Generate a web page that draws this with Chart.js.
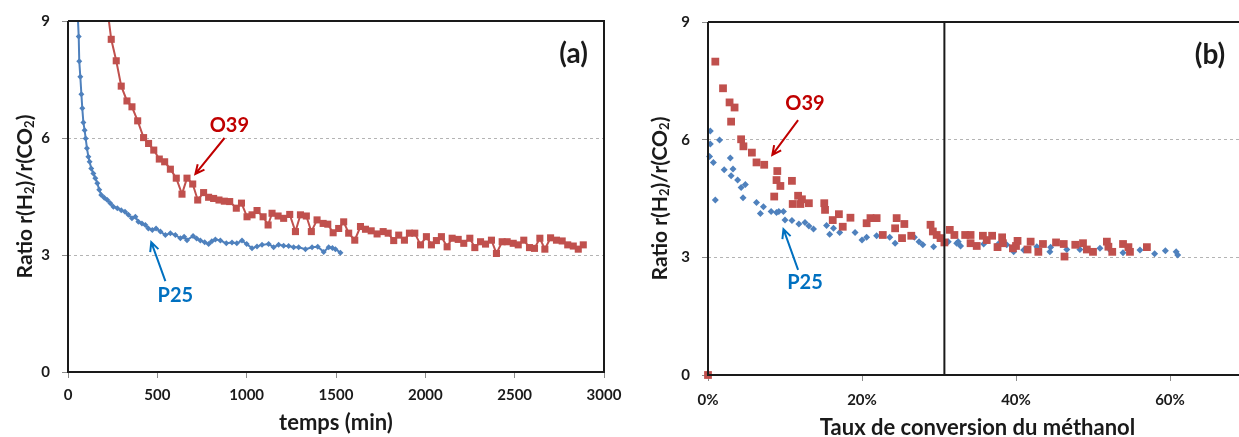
<!DOCTYPE html>
<html lang="fr">
<head>
<meta charset="UTF-8">
<title>Ratio r(H2)/r(CO2)</title>
<script src="https://cdn.jsdelivr.net/npm/chart.js"></script>
<style>
    body { margin: 0; background: #fff; width: 1239px; height: 437px; overflow: hidden; position: relative; }
    canvas { position: absolute; top: 0; }
    #chartA { left: 0; }
    #chartB { left: 620px; }
</style>
</head>
<body>
<canvas id="chartA" width="640" height="437"></canvas>
<canvas id="chartB" width="640" height="437"></canvas>
<script>
// (a) ratio vs time (min)
const p25Time = [52,60,63,69,75,80,86,93,99,106,114,121,130,142,153,164,175,186,203,220,237,254,276,298,319,338,358,377,394,414,433,450,472,493,517,545,573,601,629,650,666,700,720,741,765,787,805,825,853,886,918,945,974,1000,1030,1058,1086,1123,1151,1179,1207,1235,1263,1291,1329,1366,1398,1431,1459,1480,1497,1525];
const p25Ratio = [9.4,8.6,7.97,7.57,7.12,6.76,6.40,6.2,5.99,5.74,5.52,5.39,5.22,5.09,4.97,4.84,4.67,4.54,4.47,4.41,4.33,4.24,4.20,4.15,4.11,4.03,3.94,3.98,3.85,3.81,3.77,3.68,3.64,3.68,3.60,3.51,3.56,3.51,3.43,3.47,3.38,3.49,3.42,3.37,3.33,3.28,3.35,3.40,3.37,3.30,3.32,3.30,3.37,3.28,3.17,3.22,3.26,3.28,3.20,3.26,3.24,3.23,3.20,3.20,3.15,3.20,3.21,3.08,3.20,3.18,3.15,3.06];
const o39Time = [215,242,270,298,330,358,390,423,451,480,511,541,573,606,638,666,698,726,759,787,815,845,875,905,942,971,1002,1030,1058,1092,1120,1142,1176,1207,1241,1273,1301,1334,1362,1394,1428,1454,1484,1515,1543,1571,1605,1637,1665,1697,1730,1764,1792,1823,1851,1883,1911,1941,1973,2006,2034,2062,2090,2122,2150,2184,2215,2249,2277,2309,2337,2370,2398,2430,2458,2492,2520,2551,2583,2611,2641,2669,2701,2734,2766,2797,2828,2856,2884];
const o39Ratio = [9.5,8.53,7.98,7.33,6.95,6.80,6.44,6.01,5.86,5.69,5.46,5.39,5.20,4.97,4.56,4.97,4.82,4.41,4.60,4.48,4.45,4.41,4.38,4.37,4.20,4.33,3.98,4.03,4.14,3.98,3.77,4.07,4.00,3.94,4.04,3.60,4.03,4.00,3.60,3.90,3.81,3.79,3.57,3.68,3.85,3.56,3.38,3.73,3.66,3.62,3.54,3.60,3.56,3.37,3.51,3.38,3.56,3.56,3.26,3.47,3.26,3.37,3.47,3.21,3.43,3.40,3.30,3.43,3.19,3.34,3.28,3.38,3.04,3.34,3.34,3.30,3.26,3.38,3.19,3.17,3.43,3.15,3.44,3.38,3.36,3.26,3.23,3.15,3.26];

// (b) ratio vs methanol conversion (%)
const p25Conv = [0.3,0.3,1.5,0.2,0.7,0.95,2.1,2.9,3.25,3.0,3.85,4.85,4.3,4.55,6.3,6.8,7.2,8.2,8.9,9.2,9.8,10.0,10.9,11.8,12.6,13.1,13.7,15.4,15.8,16.3,17.1,19.1,20.0,20.6,21.9,23.6,24.3,26.8,27.4,27.9,29.3,31.2,32.3,32.5,32.8,35.8,37.7,38.8,39.7,41.0,42.7,44.5,44.4,46.6,48.3,50.9,52.3,53.9,56.1,58.0,59.4,60.8,61.0];
const p25ConvRatio = [6.22,5.89,5.99,5.57,5.42,4.46,5.23,5.53,5.25,5.08,4.97,4.86,4.78,4.52,4.40,4.12,4.29,4.17,4.14,4.17,4.17,3.95,3.94,3.85,3.89,3.80,3.72,3.81,3.59,3.74,3.63,3.63,3.44,3.51,3.55,3.51,3.36,3.51,3.40,3.32,3.27,3.40,3.36,3.40,3.29,3.34,3.34,3.32,3.14,3.19,3.27,3.26,3.14,3.20,3.20,3.23,3.17,3.12,3.19,3.09,3.17,3.14,3.06];
const o39Conv = [0,0.95,1.95,2.8,3.45,3.0,4.3,4.6,5.7,6.3,7.3,9.0,8.9,9.4,8.6,10.9,11.7,11.0,12.0,12.2,13.1,15.1,15.2,16.2,17.0,17.5,18.5,20.6,21.1,21.9,22.7,24.5,24.3,25.5,25.2,26.4,28.9,29.2,29.7,30.2,30.7,31.4,32.0,33.4,34.1,34.1,34.9,35.7,36.2,36.9,38.2,37.6,38.3,39.6,40.2,40.0,41.5,41.9,42.9,43.5,45.2,46.2,46.3,47.7,48.7,49.2,50.0,51.8,52.0,52.5,53.9,54.6,54.8,57.0];
const o39ConvRatio = [0,7.99,7.31,6.95,6.82,6.46,6.01,5.83,5.67,5.42,5.36,5.20,4.97,4.82,4.55,4.95,4.57,4.36,4.36,4.48,4.38,4.38,4.21,3.95,4.10,3.78,4.01,3.87,4.0,4.0,3.57,4.0,3.74,3.85,3.49,3.55,3.83,3.66,3.57,3.49,3.38,3.70,3.57,3.57,3.57,3.36,3.29,3.55,3.44,3.55,3.51,3.26,3.36,3.23,3.42,3.29,3.20,3.40,3.14,3.34,3.38,3.34,3.02,3.32,3.36,3.20,3.14,3.40,3.27,3.14,3.34,3.26,3.14,3.26];

const conversionCut = 30.7;   // vertical line in (b)

const RED = '#C0504D', BLUE = '#4F81BD';
const RED_TXT = '#C00000', BLUE_TXT = '#0070C0';
const INK = '#1a1a1a';

Chart.defaults.font.family = 'Lato, "Open Sans", sans-serif';
Chart.defaults.animation = false;

const pts = (xs, ys) => xs.map((x, i) => ({ x: x, y: ys[i] }));

function arrow(ctx, x1, y1, x2, y2, color) {
    const ang = Math.atan2(y2 - y1, x2 - x1), h = 10;
    ctx.strokeStyle = color;
    ctx.lineWidth = 2;
    ctx.beginPath();
    ctx.moveTo(x1, y1);
    ctx.lineTo(x2, y2);
    ctx.moveTo(x2 - h * Math.cos(ang - 0.45), y2 - h * Math.sin(ang - 0.45));
    ctx.lineTo(x2, y2);
    ctx.lineTo(x2 - h * Math.cos(ang + 0.45), y2 - h * Math.sin(ang + 0.45));
    ctx.stroke();
}

function ratioTitle(ctx, cx, cy) {
    const parts = [['Ratio r(H', 0], ['2', 1], [')/r(CO', 0], ['2', 1], [')', 0]];
    const big = 'bold 21px Lato', small = 'bold 13px Lato';
    let w = 0;
    parts.forEach(p => { ctx.font = p[1] ? small : big; w += ctx.measureText(p[0]).width; });
    ctx.save();
    ctx.translate(cx, cy);
    ctx.rotate(-Math.PI / 2);
    ctx.fillStyle = INK;
    ctx.textBaseline = 'middle';
    ctx.textAlign = 'left';
    let x = -w / 2;
    parts.forEach(p => {
        ctx.font = p[1] ? small : big;
        ctx.fillText(p[0], x, p[1] ? 5 : 0);
        x += ctx.measureText(p[0]).width;
    });
    ctx.restore();
}

// frame, titles, labels and arrows
const decor = {
    id: 'decor',
    afterDraw(chart, args, o) {
        const { ctx, chartArea: a, scales: { x, y } } = chart;
        ctx.save();
        if (o.cut != null) {
            const cx = x.getPixelForValue(o.cut);
            ctx.strokeStyle = INK;
            ctx.lineWidth = 2;
            ctx.beginPath();
            ctx.moveTo(cx, a.top);
            ctx.lineTo(cx, a.bottom);
            ctx.stroke();
        }
        ctx.strokeStyle = INK;
        ctx.lineWidth = 2;
        ctx.beginPath();
        ctx.moveTo(a.left, a.top);
        ctx.lineTo(a.right, a.top);
        if (o.rightEdge) ctx.lineTo(a.right, a.bottom); else ctx.moveTo(a.right, a.bottom);
        ctx.lineTo(a.left, a.bottom);
        ctx.lineTo(a.left, a.top);
        ctx.stroke();

        ctx.textAlign = 'center';
        ctx.textBaseline = 'middle';
        o.notes.forEach(n => {
            ctx.fillStyle = n.color;
            ctx.font = 'bold 20px Lato';
            ctx.fillText(n.text, x.getPixelForValue(n.at[0]), y.getPixelForValue(n.at[1]));
            arrow(ctx, x.getPixelForValue(n.from[0]), y.getPixelForValue(n.from[1]),
                x.getPixelForValue(n.to[0]), y.getPixelForValue(n.to[1]), n.color);
        });
        ctx.fillStyle = INK;
        ctx.font = 'bold 28px Lato';
        ctx.fillText(o.tag.text, x.getPixelForValue(o.tag.at[0]), y.getPixelForValue(o.tag.at[1]));

        ctx.font = 'bold 22px Lato';
        ctx.fillText(o.xTitle, (a.left + a.right) / 2, a.bottom + o.xTitleGap);
        ratioTitle(ctx, o.yTitleX, (a.top + a.bottom) / 2);
        ctx.restore();
    }
};

function yAxis(width) {
    return {
        min: 0, max: 9,
        ticks: { stepSize: 3, padding: 12, color: INK, font: { size: 15, weight: 'bold' } },
        grid: {
            color: c => (c.tick && (c.tick.value === 0 || c.tick.value === 9)) ? 'rgba(0,0,0,0)' : '#b4b4b4',
            lineWidth: 1, tickLength: 6, tickColor: '#8c8c8c', tickBorderDash: []
        },
        border: { display: false, dash: [3, 3] },
        afterFit: s => { s.width = width; }
    };
}

function xAxis(min, max, step, pad, height, fmt) {
    return {
        type: 'linear', min: min, max: max,
        ticks: { stepSize: step, padding: pad, color: INK, font: { size: 15, weight: 'bold' }, callback: fmt },
        grid: { drawOnChartArea: false, tickLength: 6, tickColor: '#8c8c8c' },
        border: { display: false },
        afterBuildTicks: s => { s.ticks = s.ticks.filter(t => t.value % step === 0); },
        afterFit: s => { s.height = height; }
    };
}

new Chart(document.getElementById('chartA'), {
    type: 'scatter',
    data: {
        datasets: [
            {
                label: 'O39', data: pts(o39Time, o39Ratio), showLine: true,
                borderColor: RED, backgroundColor: RED, borderWidth: 2,
                pointStyle: 'rect', pointRadius: 5, pointBorderWidth: 0,
                clip: { left: 6, right: 6, top: 0, bottom: 6 }
            },
            {
                label: 'P25', data: pts(p25Time, p25Ratio), showLine: true,
                borderColor: BLUE, backgroundColor: BLUE, borderWidth: 2,
                pointStyle: 'rectRot', pointRadius: 3, pointBorderWidth: 0,
                clip: { left: 6, right: 6, top: 0, bottom: 6 }
            }
        ]
    },
    options: {
        responsive: false,
        layout: { padding: { left: 0, top: 21, right: 36, bottom: 0 } },
        scales: {
            x: xAxis(0, 3000, 500, 8, 65, v => String(v)),
            y: yAxis(68)
        },
        plugins: {
            legend: { display: false },
            tooltip: { enabled: false },
            decor: {
                rightEdge: true,
                notes: [
                    { text: 'O39', color: RED_TXT, at: [903, 6.33], from: [876, 6.0], to: [713, 5.08] },
                    { text: 'P25', color: BLUE_TXT, at: [601, 1.95], from: [545, 2.33], to: [466, 3.33] }
                ],
                tag: { text: '(a)', at: [2830, 8.15] },
                xTitle: 'temps (min)', xTitleGap: 51, yTitleX: 25
            }
        }
    },
    plugins: [decor]
});

new Chart(document.getElementById('chartB'), {
    type: 'scatter',
    data: {
        datasets: [
            {
                label: 'O39', data: pts(o39Conv, o39ConvRatio),
                borderColor: RED, backgroundColor: RED,
                pointStyle: 'rect', pointRadius: 5.5, pointBorderWidth: 0, clip: false
            },
            {
                label: 'P25', data: pts(p25Conv, p25ConvRatio),
                borderColor: BLUE, backgroundColor: BLUE,
                pointStyle: 'rectRot', pointRadius: 3.5, pointBorderWidth: 0, clip: false
            }
        ]
    },
    options: {
        responsive: false,
        layout: { padding: { left: 0, top: 22, right: 13, bottom: 0 } },
        scales: {
            x: xAxis(0, 70, 20, 10, 62, v => v + '%'),
            y: yAxis(88)
        },
        plugins: {
            legend: { display: false },
            tooltip: { enabled: false },
            decor: {
                rightEdge: false,
                cut: conversionCut,
                notes: [
                    { text: 'O39', color: RED_TXT, at: [12.6, 6.91], from: [11.7, 6.5], to: [8.35, 5.61] },
                    { text: 'P25', color: BLUE_TXT, at: [12.6, 2.35], from: [11.7, 2.68], to: [9.8, 3.72] }
                ],
                tag: { text: '(b)', at: [65.2, 8.16] },
                xTitle: 'Taux de conversion du méthanol', xTitleGap: 53, yTitleX: 40
            }
        }
    },
    plugins: [decor]
});
</script>
</body>
</html>
